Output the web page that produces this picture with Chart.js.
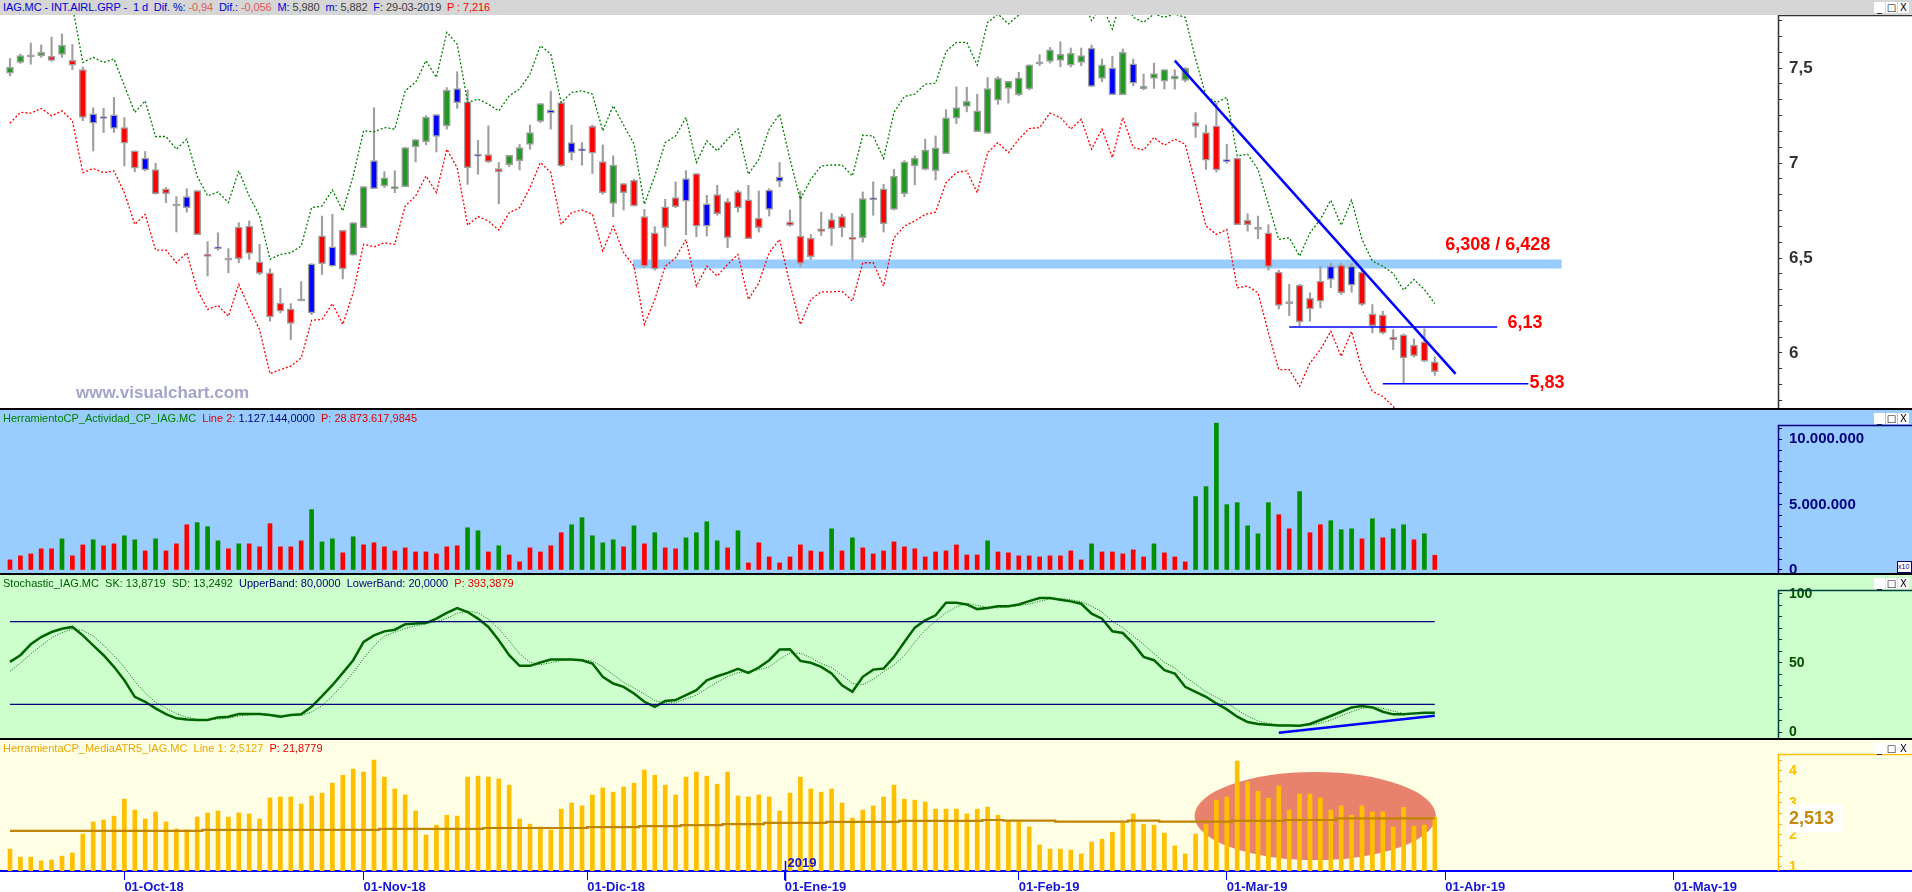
<!DOCTYPE html>
<html lang="es">
<head>
<meta charset="UTF-8">
<title>IAG.MC - Visual Chart</title>
<script src="https://cdn.jsdelivr.net/npm/chart.js@4"></script>
<style>
  html, body { margin: 0; padding: 0; background: #fff; overflow: hidden; }
  #wrap { position: relative; width: 1912px; height: 892px; font-family: "Liberation Sans", Arial, sans-serif; }
  .pane { position: absolute; left: 0; width: 1912px; }
  .sep { position: absolute; left: 0; width: 1912px; height: 2px; background: #000; }
  canvas { position: absolute; left: 0; }
  .hdr { position: absolute; left: 3px; font-size: 11px; line-height: 13px; white-space: pre; }
  #title { letter-spacing: -0.1px; }
  .ctl { position: absolute; right: 3px; display: flex; gap: 1px; }
  .ctl span { display: block; width: 11px; height: 11px; background: #fff; font: 10px/11px "DejaVu Sans", sans-serif; text-align: center; color: #000; }
  #mark { position: absolute; left: 76px; top: 383px; font: bold 17px "Liberation Sans", Arial, sans-serif; color: #a4a4cc; }
  #x10 { position: absolute; left: 1897px; top: 561px; width: 13px; height: 10px; border: 1px solid #000080; font: 7px/10px "Liberation Sans", sans-serif; color: #000080; background: #fff; }
</style>
</head>
<body>
<div id="wrap">
  <div class="pane" style="top:0;height:15px;background:#d6d6d6"></div>
  <div class="pane" style="top:15px;height:393px;background:#fff"></div>
  <div class="sep" style="top:408px"></div>
  <div class="pane" style="top:410px;height:163px;background:#99ccff"></div>
  <div class="sep" style="top:573px"></div>
  <div class="pane" style="top:575px;height:163px;background:#ccffcc"></div>
  <div class="sep" style="top:738px"></div>
  <div class="pane" style="top:740px;height:131px;background:#ffffe6"></div>

  <canvas id="cPrice" width="1912" height="393" style="top:15px"></canvas>
  <canvas id="cVol" width="1912" height="163" style="top:410px"></canvas>
  <canvas id="cSto" width="1912" height="163" style="top:575px"></canvas>
  <canvas id="cAtr" width="1912" height="152" style="top:740px"></canvas>

  <div id="title" class="hdr" style="top:1px"><span style="color:#0000d8">IAG.MC - INT.AIRL.GRP -  1 d  Dif. %: </span><span style="color:#e05a5a">-0,94</span><span style="color:#0000d8">  Dif.: </span><span style="color:#e05a5a">-0,056</span><span style="color:#0000d8">  M: </span><span style="color:#404040">5,980</span><span style="color:#0000d8">  m: </span><span style="color:#404040">5,882</span><span style="color:#0000d8">  F: </span><span style="color:#404040">29-03-2019</span><span style="color:#ff0000">  P : 7,216</span></div>
  <div class="hdr" style="top:412px"><span style="color:#008000">HerramientoCP_Actividad_CP_IAG.MC</span><span style="color:#e00000">  Line 2: </span><span style="color:#000080">1.127.144,0000</span><span style="color:#e00000">  P: 28.873.617,9845</span></div>
  <div class="hdr" style="top:577px"><span style="color:#006000">Stochastic_IAG.MC  SK: 13,8719  SD: 13,2492</span><span style="color:#000080">  UpperBand: 80,0000  LowerBand: 20,0000</span><span style="color:#e00000">  P: 393,3879</span></div>
  <div class="hdr" style="top:742px"><span style="color:#eaa800">HerramientaCP_MediaATR5_IAG.MC  Line 1: 2,5127</span><span style="color:#e00000">  P: 21,8779</span></div>

  <div class="ctl" style="top:2px"><span>_</span><span>□</span><span>X</span></div>
  <div class="ctl" style="top:413px"><span>_</span><span>□</span><span>X</span></div>
  <div class="ctl" style="top:578px"><span>_</span><span>□</span><span>X</span></div>
  <div class="ctl" style="top:743px"><span>_</span><span>□</span><span>X</span></div>
  <div id="mark">www.visualchart.com</div>
  <div id="x10">x10</div>
</div>

<script>
// trading days shown on the chart (dd-mm-yy)
const dates = [
  '14-09-18','17-09-18','18-09-18','19-09-18','20-09-18','21-09-18','24-09-18','25-09-18','26-09-18','27-09-18','28-09-18',
  '01-10-18','02-10-18','03-10-18','04-10-18','05-10-18','08-10-18','09-10-18','10-10-18','11-10-18','12-10-18','15-10-18','16-10-18',
  '17-10-18','18-10-18','19-10-18','22-10-18','23-10-18','24-10-18','25-10-18','26-10-18','29-10-18','30-10-18','31-10-18',
  '01-11-18','02-11-18','05-11-18','06-11-18','07-11-18','08-11-18','09-11-18','12-11-18','13-11-18','14-11-18','15-11-18',
  '16-11-18','19-11-18','20-11-18','21-11-18','22-11-18','23-11-18','26-11-18','27-11-18','28-11-18','29-11-18','30-11-18',
  '03-12-18','04-12-18','05-12-18','06-12-18','07-12-18','10-12-18','11-12-18','12-12-18','13-12-18','14-12-18','17-12-18',
  '18-12-18','19-12-18','20-12-18','21-12-18','24-12-18','27-12-18','28-12-18','31-12-18',
  '02-01-19','03-01-19','04-01-19','07-01-19','08-01-19','09-01-19','10-01-19','11-01-19','14-01-19','15-01-19','16-01-19',
  '17-01-19','18-01-19','21-01-19','22-01-19','23-01-19','24-01-19','25-01-19','28-01-19','29-01-19','30-01-19','31-01-19',
  '01-02-19','04-02-19','05-02-19','06-02-19','07-02-19','08-02-19','11-02-19','12-02-19','13-02-19','14-02-19','15-02-19',
  '18-02-19','19-02-19','20-02-19','21-02-19','22-02-19','25-02-19','26-02-19','27-02-19','28-02-19',
  '01-03-19','04-03-19','05-03-19','06-03-19','07-03-19','08-03-19','11-03-19','12-03-19','13-03-19','14-03-19','15-03-19',
  '18-03-19','19-03-19','20-03-19','21-03-19','22-03-19','25-03-19','26-03-19','27-03-19','28-03-19','29-03-19'
];

const open = [
  7.474,7.530,7.560,7.564,7.562,7.573,7.541,7.493,7.259,7.240,
  7.254,7.187,7.064,7.027,6.966,6.865,6.774,6.823,6.855,6.521,
  6.549,6.489,6.663,6.668,6.480,6.422,6.262,6.232,6.274,6.211,
  6.617,6.559,6.646,6.515,6.660,6.865,6.880,6.865,6.876,7.085,
  7.113,7.140,7.196,7.393,7.323,7.036,7.045,6.971,6.992,7.013,
  7.098,7.219,7.281,7.319,7.108,7.064,7.194,7.008,6.788,6.892,
  6.909,6.718,6.633,6.770,6.818,6.918,6.945,6.786,6.834,6.797,
  6.850,6.807,6.711,6.858,6.904,6.690,6.616,6.605,6.654,6.702,
  6.718,6.607,6.607,6.807,6.865,6.756,6.839,6.985,6.967,6.960,
  7.050,7.237,7.298,7.166,7.156,7.332,7.393,7.361,7.390,7.523,
  7.536,7.541,7.516,7.530,7.606,7.446,7.502,7.361,7.523,7.390,
  7.446,7.432,7.442,7.435,7.214,7.161,7.196,7.008,7.027,6.698,
  6.651,6.633,6.426,6.260,6.357,6.288,6.378,6.387,6.463,6.357,
  6.426,6.206,6.201,6.084,6.095,6.042,6.058,5.953
];
const high = [
  7.551,7.574,7.632,7.622,7.664,7.680,7.625,7.507,7.291,7.289,
  7.346,7.240,7.064,7.061,6.999,6.871,6.823,6.865,6.855,6.586,
  6.633,6.549,6.686,6.695,6.572,6.443,6.341,6.260,6.376,6.470,
  6.721,6.730,6.646,6.686,6.876,7.291,6.955,6.960,7.082,7.124,
  7.249,7.256,7.398,7.481,7.386,7.120,7.196,7.003,7.041,7.098,
  7.200,7.314,7.379,7.323,7.200,7.108,7.200,7.096,7.038,6.892,
  6.915,6.756,6.665,6.809,6.901,6.960,6.945,6.830,6.883,6.813,
  6.857,6.883,6.853,6.865,7.003,6.753,6.853,6.624,6.742,6.735,
  6.730,6.735,6.848,6.901,6.888,6.967,7.013,7.038,7.126,7.143,
  7.281,7.402,7.400,7.363,7.451,7.455,7.430,7.478,7.518,7.571,
  7.609,7.639,7.606,7.606,7.622,7.548,7.562,7.601,7.548,7.469,
  7.527,7.492,7.492,7.504,7.266,7.200,7.316,7.099,7.027,6.733,
  6.721,6.675,6.436,6.361,6.361,6.317,6.457,6.471,6.471,6.471,
  6.436,6.255,6.220,6.123,6.100,6.074,6.127,5.980
];
const low = [
  7.460,7.525,7.521,7.557,7.536,7.557,7.492,7.223,7.064,7.161,
  7.161,6.985,6.955,6.959,6.836,6.792,6.637,6.742,6.623,6.405,
  6.542,6.422,6.475,6.493,6.413,6.167,6.211,6.070,6.274,6.202,
  6.413,6.457,6.390,6.515,6.660,6.865,6.871,6.844,6.876,7.006,
  7.096,7.059,7.179,7.288,6.888,6.941,7.003,6.785,6.982,6.964,
  7.073,7.214,7.179,6.982,7.017,6.989,6.945,6.836,6.718,6.753,
  6.774,6.449,6.436,6.563,6.765,6.623,6.612,6.616,6.725,6.554,
  6.742,6.602,6.637,6.721,6.876,6.668,6.454,6.493,6.619,6.566,
  6.612,6.489,6.584,6.725,6.637,6.753,6.823,6.885,6.964,6.911,
  7.050,7.208,7.270,7.166,7.156,7.310,7.316,7.354,7.386,7.513,
  7.527,7.507,7.507,7.513,7.404,7.428,7.361,7.361,7.407,7.386,
  7.393,7.390,7.390,7.428,7.135,6.967,6.953,6.999,6.675,6.642,
  6.602,6.436,6.232,6.197,6.141,6.167,6.237,6.343,6.308,6.320,
  6.250,6.106,6.100,6.018,5.838,5.979,5.953,5.882
];
const close = [
  7.504,7.566,7.560,7.583,7.541,7.620,7.516,7.240,7.210,7.235,
  7.182,7.105,6.973,6.964,6.839,6.839,6.774,6.765,6.623,6.508,
  6.549,6.489,6.496,6.524,6.419,6.190,6.220,6.155,6.274,6.470,
  6.470,6.457,6.443,6.686,6.876,7.013,6.923,6.876,7.082,7.124,
  7.242,7.256,7.384,7.318,6.976,7.036,7.008,6.953,7.041,7.082,
  7.161,7.314,7.263,6.985,7.055,7.064,7.052,6.844,6.989,6.844,
  6.774,6.457,6.443,6.660,6.770,6.799,6.668,6.668,6.734,6.607,
  6.765,6.602,6.660,6.756,6.927,6.672,6.471,6.507,6.640,6.654,
  6.660,6.598,6.813,6.807,6.681,6.932,7.006,7.027,7.069,7.080,
  7.238,7.293,7.325,7.275,7.393,7.446,7.430,7.449,7.518,7.523,
  7.597,7.573,7.578,7.566,7.404,7.518,7.361,7.583,7.421,7.404,
  7.472,7.492,7.460,7.499,7.193,7.015,6.964,7.008,6.675,6.675,
  6.651,6.454,6.250,6.260,6.164,6.232,6.273,6.457,6.317,6.457,
  6.255,6.144,6.106,6.070,5.974,5.986,5.957,5.901
];
// candles that the platform paints in blue
const blueCandles = [8,9,10,13,17,20,29,31,35,41,43,45,52,54,55,65,67,73,74,83,104,106,108,117,127,129];

// envelope bands (upper green, lower red)
const bandUp = [
  7.808,7.865,7.861,7.886,7.847,7.874,7.830,7.530,7.557,7.530,
  7.548,7.407,7.267,7.328,7.140,7.140,7.073,7.126,6.932,6.827,
  6.848,6.792,6.959,6.827,6.721,6.493,6.519,6.528,6.563,6.765,
  6.774,6.858,6.748,6.932,7.170,7.164,7.187,7.179,7.381,7.425,
  7.539,7.451,7.689,7.627,7.319,7.337,7.310,7.275,7.354,7.390,
  7.469,7.618,7.574,7.319,7.372,7.381,7.363,7.170,7.302,7.200,
  7.100,6.783,6.932,7.108,7.143,7.240,7.003,7.117,7.064,7.126,
  7.179,6.941,7.020,7.179,7.258,7.020,6.809,6.915,6.985,6.990,
  6.990,6.932,7.147,7.143,7.024,7.267,7.351,7.363,7.416,7.421,
  7.587,7.636,7.636,7.516,7.741,7.785,7.733,7.780,7.833,7.838,
  7.914,7.891,7.829,7.882,7.750,7.829,7.706,7.891,7.768,7.741,
  7.785,7.768,7.785,7.768,7.548,7.354,7.319,7.346,7.038,7.047,
  6.967,6.783,6.598,6.607,6.510,6.633,6.704,6.804,6.672,6.804,
  6.598,6.484,6.457,6.419,6.331,6.387,6.334,6.260
];
const bandLow = [
  7.210,7.267,7.263,7.288,7.249,7.275,7.223,6.950,6.971,6.950,
  6.959,6.844,6.677,6.730,6.542,6.542,6.475,6.528,6.334,6.229,
  6.250,6.193,6.361,6.237,6.123,5.891,5.912,5.930,5.974,6.172,
  6.176,6.260,6.150,6.317,6.572,6.559,6.580,6.572,6.774,6.827,
  6.932,6.844,7.073,6.976,6.672,6.718,6.695,6.647,6.739,6.765,
  6.871,7.003,6.950,6.677,6.739,6.753,6.730,6.537,6.668,6.528,
  6.457,6.150,6.281,6.457,6.501,6.598,6.352,6.457,6.405,6.466,
  6.519,6.281,6.369,6.528,6.598,6.361,6.150,6.281,6.322,6.322,
  6.325,6.273,6.475,6.475,6.352,6.607,6.668,6.695,6.730,6.742,
  6.897,6.950,6.959,6.844,7.055,7.108,7.055,7.126,7.182,7.187,
  7.263,7.240,7.179,7.231,7.073,7.179,7.029,7.240,7.082,7.069,
  7.135,7.094,7.126,7.099,6.888,6.668,6.624,6.651,6.343,6.352,
  6.317,6.106,5.912,5.912,5.824,5.947,6.018,6.114,5.982,6.114,
  5.912,5.798,5.771,5.719,5.641,5.697,5.645,5.571
];

// volume, millions of shares
const volume = [
  0.77,1.08,1.23,1.62,1.62,2.38,1.08,1.92,2.31,1.85,
  2.00,2.62,2.31,1.46,2.38,1.46,2.00,3.46,3.62,3.31,
  2.23,1.62,2.00,2.00,1.77,3.54,1.77,1.77,2.23,4.62,
  2.15,2.38,1.31,2.54,1.92,2.08,1.77,1.46,1.69,1.38,
  1.38,1.23,1.77,1.85,3.23,3.00,1.38,1.85,1.15,0.62,
  1.69,1.38,1.85,2.85,3.46,4.00,2.62,2.08,2.31,1.77,
  3.38,2.00,2.85,1.69,1.62,2.46,2.85,3.69,2.23,1.69,
  3.00,0.54,2.08,1.00,0.54,1.00,1.92,1.46,1.38,3.15,
  1.46,2.46,1.69,1.23,1.46,2.15,1.77,1.62,1.00,1.38,
  1.46,1.92,1.15,1.15,2.23,1.38,1.31,1.08,1.08,1.00,
  1.08,1.08,1.46,0.77,2.00,1.38,1.38,1.23,1.54,1.00,
  2.00,1.31,1.00,0.62,5.62,6.38,11.23,5.00,5.15,3.38,
  2.77,5.15,4.23,3.15,6.00,2.85,3.46,3.77,3.08,3.15,
  2.38,3.92,2.46,3.15,3.46,2.31,2.77,1.127
];
// days whose activity bar is green
const volGreen = [5,8,11,12,14,18,19,20,22,29,30,31,33,44,45,47,54,55,56,57,58,60,62,65,66,67,68,70,
  79,81,94,104,110,114,115,116,117,118,119,120,121,124,127,128,129,131,133,134,136];

// stochastic %K and %D
const stochK = [
  50.8,55.6,63.5,68.8,72.4,74.8,76.1,70.0,62.8,55.6,
  47.2,37.5,25.5,21.9,17.1,13.0,9.9,9.1,8.7,8.7,
  10.6,11.1,13.0,13.0,13.0,12.3,11.1,12.3,12.8,18.3,
  26.0,33.9,42.8,52.0,65.2,70.0,72.9,74.1,78.0,78.5,
  78.9,82.1,86.2,89.8,86.9,82.1,76.1,66.4,55.6,47.9,
  47.9,50.3,52.5,52.5,52.5,52.0,49.6,40.0,35.1,32.7,
  27.9,21.9,18.3,22.4,23.1,26.7,30.3,37.5,40.4,42.8,
  45.7,42.8,46.7,52.0,59.7,59.9,51.5,50.1,47.2,42.4,
  33.9,29.1,40.0,45.2,46.0,54.4,65.2,75.6,80.9,84.5,
  93.6,93.6,92.4,89.0,89.8,91.0,91.0,92.4,94.8,97.0,
  97.0,95.8,94.6,92.9,85.7,82.1,72.9,71.7,64.0,54.4,
  52.0,44.8,42.4,32.7,29.1,25.5,20.7,16.4,11.1,7.2,
  5.8,5.3,4.8,4.8,4.6,5.8,8.7,11.6,14.7,17.8,
  18.8,17.8,14.7,12.8,12.8,13.5,14.0,13.9
];
const stochD = [
  44.0,50.0,56.6,62.6,68.2,72.0,74.4,73.6,69.6,62.8,
  55.2,46.8,36.7,28.3,21.5,17.3,13.3,10.7,9.2,8.8,
  9.3,10.1,11.6,12.4,13.0,12.8,12.1,11.9,12.1,14.5,
  19.0,26.1,34.2,42.9,53.3,62.4,69.4,72.3,75.0,76.9,
  78.5,79.8,82.4,86.0,87.6,86.3,81.7,74.9,66.0,56.6,
  50.5,48.7,50.2,51.8,52.5,52.3,51.4,47.2,41.6,35.9,
  31.9,27.5,22.7,20.9,21.3,24.1,26.7,31.5,36.1,40.2,
  43.0,43.8,45.1,47.2,52.8,57.2,57.0,53.8,49.6,46.6,
  41.2,35.1,34.3,38.1,43.7,48.5,55.2,65.1,73.9,80.3,
  86.3,90.6,93.2,91.7,90.4,89.9,90.6,91.5,92.7,94.7,
  96.3,96.6,95.8,94.4,91.1,86.9,80.2,75.6,69.5,63.4,
  56.8,50.4,46.4,40.0,34.7,29.1,25.1,20.9,16.1,11.6,
  8.0,6.1,5.3,5.0,4.7,5.1,6.4,8.7,11.7,14.7,
  17.1,18.1,17.1,15.1,13.4,13.0,13.4,13.25
];
const stochBands = [80, 20];

// ATR(5) and its running mean
const atr = [
  1.55,1.30,1.30,1.18,1.21,1.33,1.43,2.02,2.40,2.46,
  2.58,3.11,2.77,2.49,2.71,2.40,2.18,2.15,2.55,2.68,
  2.74,2.55,2.68,2.65,2.49,3.15,3.18,3.18,2.96,3.21,
  3.30,3.61,3.86,4.05,3.96,4.33,3.80,3.43,3.24,2.74,
  1.99,2.30,2.61,2.58,3.80,3.83,3.80,3.74,3.55,2.49,
  2.33,2.24,2.15,2.80,2.99,2.90,3.24,3.46,3.33,3.49,
  3.61,4.02,3.86,3.55,3.24,3.80,3.96,3.83,3.58,3.96,
  3.21,3.18,3.24,3.18,2.74,3.30,3.80,3.43,3.33,3.43,
  2.99,2.52,2.77,2.90,3.18,3.55,3.11,3.08,3.02,2.80,
  2.80,2.80,2.65,2.80,2.86,2.61,2.43,2.40,2.24,1.68,
  1.55,1.55,1.52,1.40,1.77,1.86,2.08,2.36,2.65,2.33,
  2.30,2.05,1.65,1.40,2.02,2.32,3.08,3.18,4.30,3.65,
  3.36,3.14,3.52,2.77,3.27,3.27,3.15,2.77,2.90,2.61,
  2.90,2.71,2.71,2.24,2.86,2.27,2.30,2.55
];
const atrMean = [
  2.12,2.12,2.12,2.12,2.12,2.12,2.12,2.12,2.12,2.12,
  2.12,2.12,2.12,2.12,2.12,2.12,2.12,2.12,2.12,2.15,
  2.15,2.15,2.15,2.15,2.15,2.15,2.15,2.15,2.15,2.15,
  2.15,2.15,2.15,2.15,2.15,2.15,2.18,2.18,2.18,2.18,
  2.18,2.18,2.18,2.18,2.18,2.18,2.21,2.21,2.21,2.21,
  2.21,2.21,2.21,2.21,2.21,2.21,2.24,2.24,2.24,2.24,
  2.24,2.27,2.27,2.27,2.27,2.30,2.30,2.30,2.30,2.33,
  2.33,2.33,2.33,2.37,2.37,2.37,2.37,2.37,2.37,2.40,
  2.40,2.40,2.40,2.40,2.40,2.40,2.43,2.43,2.43,2.43,
  2.43,2.43,2.43,2.43,2.46,2.46,2.44,2.44,2.44,2.44,
  2.44,2.41,2.41,2.41,2.41,2.41,2.41,2.41,2.44,2.44,
  2.44,2.41,2.41,2.41,2.41,2.41,2.41,2.41,2.43,2.43,
  2.43,2.43,2.43,2.46,2.46,2.46,2.46,2.46,2.513,2.513,
  2.513,2.513,2.513,2.513,2.513,2.513,2.513,2.513
];

// month marks on the time axis (bar position, label)
const monthPos = [11, 34, 55.5, 74.5, 97, 117, 138, 160];
const monthLabels = ['01-Oct-18', '01-Nov-18', '01-Dic-18', '01-Ene-19', '01-Feb-19', '01-Mar-19', '01-Abr-19', '01-May-19'];
const yearMark = { pos: 74.5, label: '2019' };

// drawn studies on the price pane
const trendLine = [{ x: 112, y: 7.54 }, { x: 139, y: 5.89 }];
const zoneBand = { from: 59.9, to: 149.2, mid: 6.469 };
const lineSupport1 = { from: 123, to: 143, y: 6.137 };
const lineSupport2 = { from: 132, to: 146, y: 5.838 };
const priceNotes = [
  { text: '6,308 / 6,428', x: 138, y: 6.571 },
  { text: '6,13', x: 144, y: 6.16 },
  { text: '5,83', x: 146.1, y: 5.844 }
];
const stochDiv = [{ x: 122, y: -0.5 }, { x: 137, y: 11.8 }];
const atrZone = { x0: 113.9, x1: 137.1, y0: 1.21, y1: 3.96 };

// ---------------------------------------------------------------
const FONT = '"Liberation Sans", Arial, sans-serif';
Chart.defaults.font.family = FONT;
Chart.defaults.elements.point.radius = 0;
Chart.defaults.elements.line.tension = 0;

const N = dates.length;
const X_MIN = -0.96, X_MAX = 170;
const AXIS_W = 134;
const pts = arr => arr.map((v, i) => ({ x: i, y: v }));
const seg = (a, b, y) => [{ x: a, y: y }, { x: b, y: y }];
const dots = n => Math.round(n).toString().replace(/\B(?=(\d{3})+(?!\d))/g, '.');

// value scale on the right: its line starts at a "cap" a little below the pane top
const axisCap = {
  id: 'axisCap',
  afterDraw(chart, args, opts) {
    const { ctx, chartArea, scales: { y } } = chart;
    const top = Math.round(y.getPixelForValue(opts.value)) + 0.5;
    const x = Math.round(chartArea.right) + 0.5;
    ctx.save();
    ctx.strokeStyle = opts.color;
    ctx.lineWidth = 1.5;
    ctx.beginPath();
    ctx.moveTo(chart.width, top);
    ctx.lineTo(x, top);
    ctx.lineTo(x, chartArea.bottom);
    ctx.stroke();
    ctx.restore();
  }
};

function rightAxis(min, max, step, cap, color, labelColor, fontSize, fmt) {
  return {
    position: 'right', min: min, max: max,
    border: { display: false },
    grid: {
      drawOnChartArea: false, drawTicks: true, tickLength: 4,
      color: c => (c.tick && c.tick.value > cap + 1e-9) ? 'rgba(0,0,0,0)' : color
    },
    ticks: {
      stepSize: step, includeBounds: false, autoSkip: false, padding: 7,
      color: labelColor, font: { size: fontSize, weight: 'bold' }, callback: fmt
    },
    afterFit: s => { s.width = AXIS_W; s.paddingTop = 0; s.paddingBottom = 0; }
  };
}

function options(yAxis, cap, xAxis) {
  return {
    responsive: false, animation: false, events: [],
    layout: { padding: 0 },
    plugins: { legend: { display: false }, tooltip: { enabled: false }, axisCap: cap },
    scales: {
      x: xAxis || { type: 'linear', min: X_MIN, max: X_MAX, offset: false, display: false },
      y: yAxis
    }
  };
}

// ---------- price ----------
const candleColor = dates.map((d, i) => {
  if (blueCandles.includes(i)) return '#0000ff';
  if (close[i] > open[i]) return '#229922';
  if (close[i] < open[i]) return '#ff0000';
  return '#a0a0a0';
});

const priceNotesPlugin = {
  id: 'priceNotes',
  afterDatasetsDraw(chart) {
    const { ctx, scales: { x, y } } = chart;
    ctx.save();
    ctx.fillStyle = '#ff0000';
    ctx.font = 'bold 18px ' + FONT;
    ctx.textBaseline = 'middle';
    priceNotes.forEach(n => ctx.fillText(n.text, x.getPixelForValue(n.x), y.getPixelForValue(n.y)));
    ctx.restore();
  }
};

new Chart(document.getElementById('cPrice'), {
  type: 'bar',
  data: {
    datasets: [
      { type: 'line', data: seg(zoneBand.from, zoneBand.to, zoneBand.mid), borderColor: '#99ccff', borderWidth: 9, borderCapStyle: 'butt', order: 6 },
      { data: dates.map((d, i) => ({ x: i, y: [low[i], high[i]] })), backgroundColor: '#a0a0a0', barThickness: 1.5, grouped: false, order: 3 },
      { data: dates.map((d, i) => ({ x: i, y: [open[i], close[i]] })), backgroundColor: candleColor, borderColor: '#a0a0a0',
        borderWidth: 1.5, borderSkipped: false, barThickness: 7, minBarLength: 2, grouped: false, order: 2 },
      { type: 'line', data: pts(bandUp), borderColor: '#008000', borderWidth: 1.3, borderDash: [2, 2], order: 1 },
      { type: 'line', data: pts(bandLow), borderColor: '#ff0000', borderWidth: 1.3, borderDash: [2, 2], order: 1 },
      { type: 'line', data: trendLine, borderColor: '#0000ff', borderWidth: 2.5, order: 0 },
      { type: 'line', data: seg(lineSupport1.from, lineSupport1.to, lineSupport1.y), borderColor: '#0000ff', borderWidth: 1.5, order: 0 },
      { type: 'line', data: seg(lineSupport2.from, lineSupport2.to, lineSupport2.y), borderColor: '#0000ff', borderWidth: 1.5, order: 0 }
    ]
  },
  options: options(
    rightAxis(5.71, 7.78, 1 / 12, 7.78, '#333333', '#333333', 17, v => {
      const r = Math.round(v * 2) / 2;
      return Math.abs(v - r) < 1e-6 ? String(r).replace('.', ',') : '';
    }),
    { value: 7.78, color: '#333333' }
  ),
  plugins: [priceNotesPlugin, axisCap]
});

// ---------- volume ----------
new Chart(document.getElementById('cVol'), {
  type: 'bar',
  data: {
    datasets: [{
      data: pts(volume),
      backgroundColor: volume.map((v, i) => volGreen.includes(i) ? '#009000' : '#ff0000'),
      barThickness: 4, grouped: false
    }]
  },
  options: options(
    rightAxis(-0.23, 12.24, 5 / 6, 11.1, '#000080', '#000080', 15, v => {
      const r = Math.round(v / 5) * 5;
      return Math.abs(v - r) < 1e-6 ? dots(r * 1e6) : '';
    }),
    { value: 11.1, color: '#000080' }
  ),
  plugins: [axisCap]
});

// ---------- stochastic ----------
new Chart(document.getElementById('cSto'), {
  type: 'line',
  data: {
    datasets: [
      { data: seg(0, N - 1, stochBands[0]), borderColor: '#000080', borderWidth: 1.2 },
      { data: seg(0, N - 1, stochBands[1]), borderColor: '#000080', borderWidth: 1.2 },
      { data: pts(stochD), borderColor: '#007000', borderWidth: 1, borderDash: [1, 1.5] },
      { data: pts(stochK), borderColor: '#006400', borderWidth: 2.5 },
      { data: stochDiv, borderColor: '#0000ff', borderWidth: 2.5 }
    ]
  },
  options: options(
    rightAxis(-4.33, 113.7, 100 / 12, 103, '#004040', '#005000', 14, v => {
      const r = Math.round(v / 50) * 50;
      return Math.abs(v - r) < 1e-6 ? String(r) : '';
    }),
    { value: 103, color: '#004040' }
  ),
  plugins: [axisCap]
});

// ---------- ATR ----------
const atrDecor = {
  id: 'atrDecor',
  beforeDatasetsDraw(chart) {
    const { ctx, scales: { x, y } } = chart;
    const x0 = x.getPixelForValue(atrZone.x0), x1 = x.getPixelForValue(atrZone.x1);
    const y0 = y.getPixelForValue(atrZone.y0), y1 = y.getPixelForValue(atrZone.y1);
    ctx.save();
    ctx.fillStyle = '#e9826c';
    ctx.beginPath();
    ctx.ellipse((x0 + x1) / 2, (y0 + y1) / 2, (x1 - x0) / 2, (y0 - y1) / 2, 0, 0, Math.PI * 2);
    ctx.fill();
    ctx.restore();
  },
  afterDraw(chart) {
    const { ctx, chartArea, scales: { x, y } } = chart;
    ctx.save();
    // time axis line continues under the value scale
    ctx.strokeStyle = '#0000ff';
    ctx.lineWidth = 2;
    ctx.beginPath();
    ctx.moveTo(chartArea.right, chartArea.bottom);
    ctx.lineTo(chart.width, chartArea.bottom);
    ctx.stroke();
    // year mark
    const yx = Math.round(x.getPixelForValue(yearMark.pos)) + 0.5;
    ctx.lineWidth = 1.5;
    ctx.beginPath();
    ctx.moveTo(yx, chartArea.bottom - 10);
    ctx.lineTo(yx, chartArea.bottom + 10);
    ctx.stroke();
    ctx.fillStyle = '#1515d5';
    ctx.font = 'bold 13px ' + FONT;
    ctx.textBaseline = 'middle';
    ctx.fillText(yearMark.label, yx + 2, chartArea.bottom - 8);
    // last value of the mean
    const last = atrMean[atrMean.length - 1];
    const ly = y.getPixelForValue(last);
    ctx.fillStyle = '#ffffff';
    ctx.fillRect(chartArea.right + 9, ly - 14, 56, 28);
    ctx.fillStyle = '#c28a08';
    ctx.font = 'bold 18px ' + FONT;
    ctx.fillText(last.toFixed(3).replace('.', ','), chartArea.right + 11, ly + 1);
    ctx.restore();
  }
};

new Chart(document.getElementById('cAtr'), {
  type: 'bar',
  data: {
    datasets: [
      { type: 'line', data: pts(atrMean), borderColor: '#c08400', borderWidth: 2.2, stepped: 'middle', order: 0 },
      { data: pts(atr), backgroundColor: '#ffc000', barThickness: 4, grouped: false, order: 1 }
    ]
  },
  options: options(
    rightAxis(0.866, 4.96, 1 / 3, 4.51, '#ffbf00', '#ffbf00', 14, v => {
      const r = Math.round(v);
      return Math.abs(v - r) < 1e-6 ? String(r) : '';
    }),
    { value: 4.51, color: '#ffbf00' },
    {
      type: 'linear', min: X_MIN, max: X_MAX, offset: false, position: 'bottom',
      border: { color: '#0000ff', width: 2 },
      grid: { offset: false, drawOnChartArea: false, drawTicks: true, tickLength: 9, color: '#0000ff', lineWidth: 1 },
      ticks: {
        autoSkip: false, maxRotation: 0, minRotation: 0, align: 'start', padding: 0,
        color: '#1515d5', font: { size: 13, weight: 'bold' },
        callback: (v, i) => monthLabels[i]
      },
      afterBuildTicks: s => { s.ticks = monthPos.map(p => ({ value: p })); },
      afterFit: s => { s.height = 21; s.paddingLeft = 0; s.paddingRight = 0; }
    }
  ),
  plugins: [atrDecor, axisCap]
});
</script>
</body>
</html>
